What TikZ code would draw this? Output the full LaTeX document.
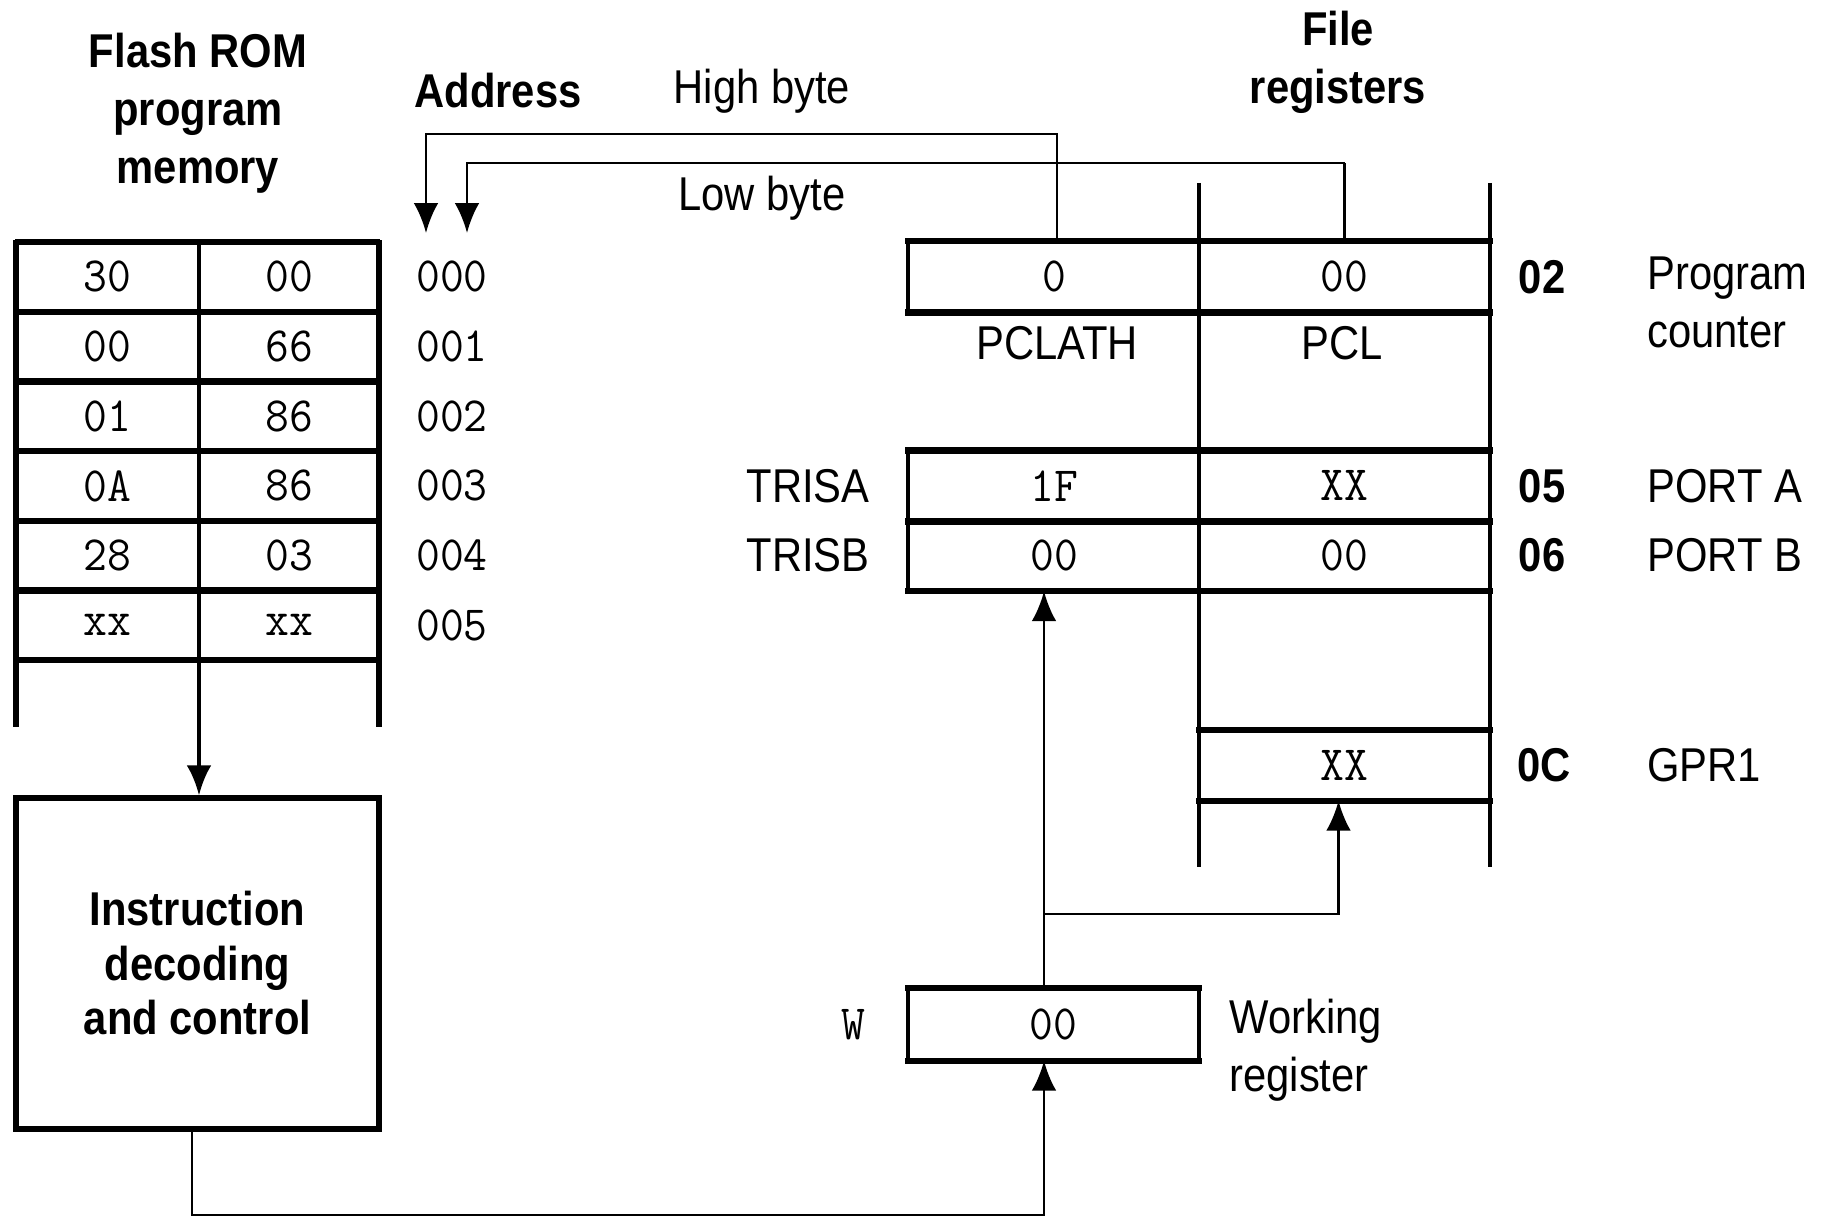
\documentclass[tikz,border=0pt]{standalone}
\usepackage{fontspec}
\setsansfont{Liberation Sans}[FakeStretch=0.88]
\setmonofont{Latin Modern Mono}[FakeStretch=0.94]
\usetikzlibrary{arrows.meta,positioning}
\newcommand{\lbl}{\sffamily\fontsize{13.5}{16.5}\selectfont}
\newcommand{\lblb}{\sffamily\bfseries\fontsize{13.5}{16.5}\selectfont}
\newcommand{\val}{\ttfamily\fontsize{14}{16}\selectfont}
\tikzset{
  hline/.style={line width=1.8pt, line cap=rect},
  vline/.style={line width=1.1pt},
  wire/.style={line width=0.8pt},
  romcell/.style={minimum width=1.8cm, minimum height=6.97mm, inner sep=0pt, font=\val},
  regcell/.style={minimum width=2.9cm, minimum height=6.97mm, inner sep=0pt, font=\val},
}
\begin{document}
\begin{tikzpicture}[>={Latex[length=8.5pt,width=7pt]}]
\useasboundingbox (0,0) rectangle (18.25,12.20);
% program memory
\node[font=\lblb, align=center] (romtitle) at (1.98,11.07) {Flash ROM\\program\\memory};
\node[font=\lblb] (addrtitle) at (4.98,11.29) {Address};
\foreach \hi/\lo/\ad [count=\i] in {30/00/000, 00/66/001, 01/86/002, 0A/86/003, 28/03/004, xx/xx/005}{
  \node[romcell] (hi\i) at (1.075,{9.78-0.697*(\i-0.5)}) {\hi};
  \node[romcell] (lo\i) at (2.89,{9.78-0.697*(\i-0.5)}) {\lo};
  \node[font=\val] (ad\i) at (4.52,{9.78-0.697*(\i-0.5)}) {\ad};
}
\foreach \i in {0,...,6}
  \draw[hline] (0.18,{9.78-0.697*\i}) -- (3.77,{9.78-0.697*\i});
\draw[line width=1.6pt] (0.16,9.80) -- (0.16,4.93);
\draw[line width=1.6pt] (3.79,9.80) -- (3.79,4.93);
\draw[vline] (1.99,9.78) -- (1.99,5.60);
\coordinate (romout) at (1.99,5.60);

% instruction decoder
\node[draw, line width=1.5pt, minimum width=3.63cm, minimum height=3.31cm,
      font=\lblb\fontsize{13.5}{15.5}\selectfont, align=center] (ctrl) at (1.975,2.565)
      {Instruction\\decoding\\and control};
\draw[vline,->] (romout) -- (romout |- ctrl.north);

% file registers
\node[font=\lblb, align=center] (filetitle) at (13.38,11.58) {File\\registers};
\draw[vline] (11.99,10.37) -- (11.99,3.53);
\draw[line width=1.4pt] (14.90,10.37) -- (14.90,3.53);

\node[regcell] (pch) at (10.54,9.4315) {0};
\node[regcell] (pcl) at (13.445,9.4315) {00};
\draw[hline] (pch.north west) -- (pcl.north east);
\draw[hline] (pch.south west) -- (pcl.south east);
\draw[vline] (pch.north west) -- (pch.south west);
\node[font=\lbl] (pclathlbl) at (10.57,8.77) {PCLATH};
\node[font=\lbl] (pcllbl) at (13.42,8.77) {PCL};

\node[regcell] (ta) at (10.54,7.3405) {1F};
\node[regcell] (pa) at (13.445,7.3405) {XX};
\node[regcell] (tb) at (10.54,6.6435) {00};
\node[regcell] (pb) at (13.445,6.6435) {00};
\draw[hline] (ta.north west) -- (pa.north east);
\draw[hline] (ta.south west) -- (pa.south east);
\draw[hline] (tb.south west) -- (pb.south east);
\draw[vline] (ta.north west) -- (tb.south west);
\node[font=\lbl, anchor=east] (trisa) at (8.82,7.3405) {TRISA};
\node[font=\lbl, anchor=east] (trisb) at (8.82,6.6435) {TRISB};

\node[regcell, minimum height=6.9mm] (gpr) at (13.445,4.545) {XX};
\draw[hline] (gpr.north west) -- (gpr.north east);
\draw[hline] (gpr.south west) -- (gpr.south east);

\node[font=\lblb] (a02) at (15.42,9.4315) {02};
\node[font=\lblb] (a05) at (15.42,7.3405) {05};
\node[font=\lblb] (a06) at (15.42,6.6435) {06};
\node[font=\lblb] (a0c) at (15.44,4.545) {0C};
\node[font=\lbl, anchor=west, align=left] (pclbl) at (16.35,9.18) {Program\\counter};
\node[font=\lbl, anchor=west] (portalbl) at (16.35,7.3405) {PORT A};
\node[font=\lbl, anchor=west] (portblbl) at (16.35,6.6435) {PORT B};
\node[font=\lbl, anchor=west] (gprlbl) at (16.35,4.545) {GPR1};

% working register
\node[regcell, minimum height=7.1mm] (W) at (10.535,1.955) {00};
\draw[hline] (W.north west) -- (W.north east);
\draw[hline] (W.south west) -- (W.south east);
\draw[vline] (W.north west) -- (W.south west);
\draw[vline] (W.north east) -- (W.south east);
\node[font=\val] (wlbl) at (8.53,1.955) {W};
\node[font=\lbl, anchor=west, align=left] (wreglbl) at (12.17,1.70) {Working\\register};

% connections
\coordinate (wup) at (10.44,2.31);
\coordinate (split) at (10.44,3.06);
\coordinate (wbot) at (10.44,0.05);
\draw[wire,->] (W.north -| wup) -- (tb.south -| wup);
\draw[wire,->] (split) -| ([xshift=-0.06cm]gpr.south);
\draw[wire,->] ([xshift=-0.055cm]ctrl.south) |- (wbot) -- (W.south -| wbot);

\coordinate (hibend) at (4.26,10.86);
\coordinate (hitip) at (4.26,9.87);
\coordinate (lobend) at (4.67,10.57);
\coordinate (lotip) at (4.67,9.87);
\draw[wire,->] (lobend -| pcl.north) -- (lobend) -- (lotip);
\draw[wire] (pcl.north) -- (lobend -| pcl.north);
\draw[wire,->] ([xshift=0.03cm]pch.north) |- (hibend) -- (hitip);
\node[font=\lbl] (hilbl) at (7.62,11.29) {High byte};
\node[font=\lbl] (lolbl) at (7.62,10.22) {Low byte};
\end{tikzpicture}
\end{document}
